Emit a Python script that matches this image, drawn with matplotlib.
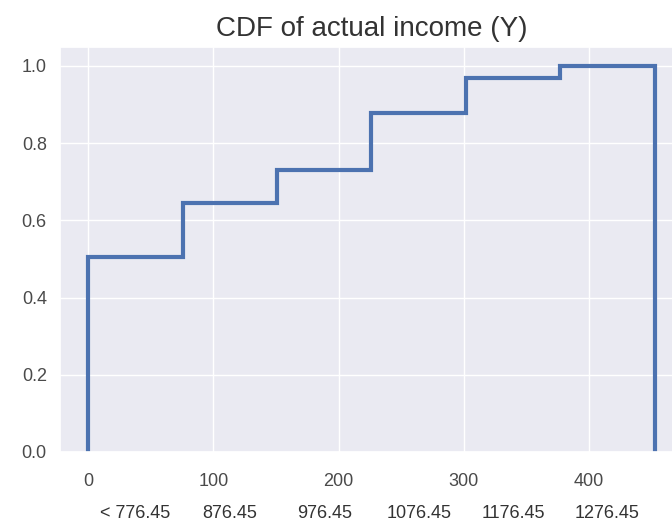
import matplotlib
matplotlib.use("Agg")
import matplotlib.pyplot as plt
import seaborn as sns
import numpy as np

sns.set_theme(style="darkgrid")
plt.rcParams['font.family'] = ['Liberation Sans', 'DejaVu Sans']

bin_edges = [0, 75.4, 150.8, 226.2, 301.6, 377.0, 452.4]
cdf_values = [0.505, 0.645, 0.730, 0.877, 0.970, 1.0]
income_labels = ["< 776.45", "876.45", "976.45", "1076.45", "1176.45", "1276.45"]
x_ticks = [0, 100, 200, 300, 400]
y_ticks = [0.0, 0.2, 0.4, 0.6, 0.8, 1.0]

fig = plt.figure(figsize=(6.72, 5.21), dpi=100)
ax = fig.add_axes([60/672, 69/521, 623/672, 405.3/521])
ax.stairs(cdf_values, bin_edges, baseline=0, color="#4c72b0", linewidth=3)
ax.set_xlim(-22.6, 475)
ax.set_ylim(0, 1.05)
ax.set_xticks(x_ticks)
ax.set_yticks(y_ticks)
ax.tick_params(labelsize=13, colors="#4a4a4a")
ax.tick_params(axis="x", pad=9)
ax.set_title("CDF of actual income (Y)", fontsize=20, color="#333333", pad=8)

centers = [(bin_edges[i] + bin_edges[i+1]) / 2 for i in range(len(cdf_values))]
for c, t in zip(centers, income_labels):
    ax.text(c, -0.152, t, ha="center", va="center", fontsize=13, color="#333333",
            transform=ax.get_xaxis_transform(), clip_on=False)

fig.savefig("out.png", dpi=100)
